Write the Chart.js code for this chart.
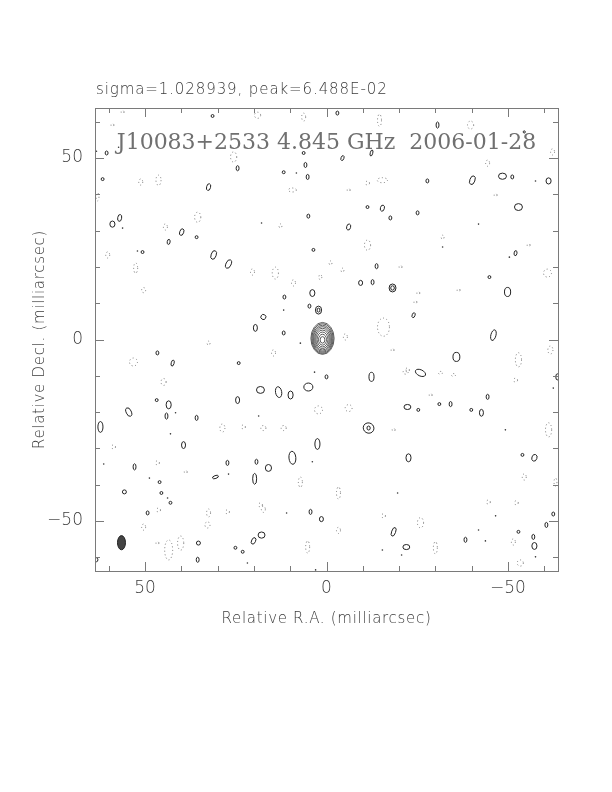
<!DOCTYPE html>
<html>
<head>
<meta charset="utf-8">
<script src="https://cdn.jsdelivr.net/npm/chart.js@4"></script>
<style>
  body { margin: 0; background: #fff; }
  canvas { display: block; }
</style>
</head>
<body>
<canvas id="myChart" width="612" height="792"></canvas>
<script>
// map limits (milliarcsec)
var ra_min = -63.8;
var ra_max = 63.8;
var dec_min = -63.8;
var dec_max = 63.8;

var major_ticks = [50, 0, -50];
var major_labels = ['50', '0', '\u221250'];
var minor_ticks = [60, 40, 30, 20, 10, -10, -20, -30, -40, -60];

var top_title = 'sigma=1.028939, peak=6.488E-02';
var map_title = 'J10083+2533 4.845 GHz  2006-01-28';
var x_title = 'Relative R.A. (milliarcsec)';
var y_title = 'Relative Decl. (milliarcsec)';

// central source: nested contour levels [size in mas]
var core_pos = [1.1, -0.1];
var core_w = [6.4, 5.9, 5.4, 4.9, 4.3, 3.7, 3.0, 2.2, 1.3];
var core_h = [8.8, 8.2, 7.5, 6.8, 6.0, 5.1, 4.1, 3.0, 1.8];
var core_dy = [0.4, 0.35, 0.3, 0.25, 0.2, 0.15, 0.1, 0.05, 0.0];

// restoring beam [ra, dec, w, h]
var beam = [56.5, -56.0, 2.2, 3.9];

// positive noise contours [ra, dec, w, h, rot]
var solid_blobs = [
  [60.6,51.4,0.8,1.1,0], [31.4,61.6,0.8,0.8,0], [24.5,47.2,0.8,1.4,0], [6.3,51.4,0.8,0.8,0],
  [11.8,46.1,0.8,0.8,0], [5.8,48.1,0.8,1.4,0], [5.2,44.8,0.8,1.4,0], [32.5,42.0,1.1,1.9,15],
  [61.7,44.2,0.8,0.8,0], [59.0,31.8,1.4,1.7,0], [57.0,33.5,1.1,1.9,10], [39.9,29.6,1.1,1.9,20],
  [35.8,28.2,0.8,0.8,0], [43.5,26.9,0.8,1.4,10], [5.0,34.0,0.8,1.1,0], [50.7,24.1,0.8,0.8,0],
  [31.1,23.3,1.4,2.5,20], [27.0,20.8,1.4,2.5,25], [3.6,24.7,0.8,0.8,0], [3.9,12.8,1.4,1.9,0],
  [11.6,11.7,0.8,1.1,0], [-3.0,62.4,0.8,1.1,0], [-30.6,59.1,0.8,1.7,0], [-54.5,57.2,0.6,0.6,0],
  [-4.4,50.0,0.8,1.4,20], [-12.4,51.4,0.7,1.7,15], [-27.8,43.7,0.8,1.1,0], [-40.2,43.9,1.4,2.5,20],
  [-48.5,45.0,2.2,1.7,0], [-51.2,44.8,0.8,1.1,0], [-61.2,43.7,1.4,1.7,0], [-11.3,36.5,0.8,0.8,0],
  [-15.4,36.2,1.1,1.7,15], [-17.6,33.5,0.8,1.1,0], [-25.1,34.9,0.8,1.1,0], [-52.9,36.5,2.2,1.9,0],
  [-6.1,31.0,1.1,1.7,15], [-13.8,20.2,0.8,1.4,0], [-52.1,23.8,0.8,1.4,10], [-9.4,15.6,1.1,1.4,0],
  [-12.7,15.8,0.8,1.4,0], [-18.2,14.2,1.9,2.2,0], [-18.2,14.2,1.0,1.2,0], [-44.9,17.2,0.8,0.8,0],
  [-49.9,13.1,1.7,2.5,0], [4.7,9.2,0.8,1.1,0], [2.2,8.1,1.7,2.2,0], [2.2,8.1,0.8,1.1,0],
  [17.4,6.2,1.4,1.4,30], [19.6,3.2,1.1,1.9,0], [11.8,1.8,0.8,1.1,0], [-24.0,6.7,0.8,1.4,20],
  [0.0,-10.3,0.8,1.1,0], [-12.4,-10.3,1.4,2.5,0], [18.2,-13.9,2.2,1.9,0], [13.2,-14.5,1.7,3.0,-10],
  [9.9,-15.3,1.4,2.2,0], [5.0,-13.1,2.5,2.2,0], [46.6,-3.7,0.8,1.1,0], [42.4,-6.5,0.8,1.7,15],
  [24.2,-6.5,0.8,0.8,0], [24.5,-16.7,1.1,1.9,0], [46.8,-16.7,0.8,0.8,0], [43.5,-18.0,1.4,2.2,0],
  [54.5,-20.0,1.4,2.5,-25], [44.1,-21.1,0.8,1.7,0], [35.8,-21.6,0.8,1.4,0], [62.3,-24.1,1.4,3.0,0],
  [39.4,-29.1,1.1,1.9,0], [52.9,-35.1,0.8,1.7,0], [27.3,-34.0,0.8,1.4,0], [19.3,-33.7,0.8,1.4,0],
  [16.0,-35.4,1.7,1.9,0], [19.8,-38.4,1.1,3.0,0], [30.6,-37.9,1.7,0.8,-20], [46.0,-39.3,0.8,0.8,0],
  [55.7,-42.0,1.1,1.1,0], [45.5,-42.3,0.8,0.8,0], [43.0,-45.0,0.8,0.8,0], [-46.0,1.2,1.4,3.0,15],
  [-35.8,-4.8,1.9,2.5,0], [-25.9,-9.2,3.0,1.7,25], [-44.4,-15.8,0.8,1.4,0], [-22.3,-18.6,1.9,1.4,0],
  [-25.3,-19.4,0.8,0.8,0], [-31.1,-17.8,0.8,0.8,0], [-34.2,-17.8,0.8,1.4,0], [-39.9,-19.4,0.8,0.8,0],
  [-42.7,-20.2,1.1,1.9,0], [-63.6,-10.3,0.8,1.7,0], [-22.6,-32.6,1.4,2.2,0], [-54.0,-31.8,0.8,0.8,0],
  [-57.3,-32.6,1.4,1.9,20], [-62.5,-48.1,0.8,1.1,0], [-60.6,-51.1,0.8,1.4,0], [-18.5,-53.0,1.1,2.5,20],
  [-52.9,-53.0,0.8,0.8,0], [-38.3,-55.2,0.8,1.4,0], [-57.0,-54.4,0.8,1.4,0], [-22.0,-57.2,1.9,1.4,0],
  [-57.3,-56.9,1.4,1.9,0], [-11.6,-24.4,3.0,2.8,30], [-11.6,-24.4,0.9,1.1,0], [2.5,-28.8,1.4,3.0,0],
  [9.4,-32.6,1.9,3.6,-5], [4.4,-47.5,0.8,1.4,0], [1.4,-49.5,1.1,1.4,0], [17.9,-53.9,1.9,1.7,0],
  [20.1,-55.5,1.1,1.9,25], [23.1,-58.5,0.8,0.8,0], [49.3,-47.8,0.8,1.1,0], [35.3,-56.1,1.1,1.1,0],
  [35.5,-60.7,0.8,1.4,0], [25.1,-57.4,0.8,0.8,0], [63.4,-60.7,0.8,1.1,0]
];

// tiny positive contours [ra, dec]
var dot_ra = [8.3, 56.2, 17.9, -41.9, -32.0, -50.4, 11.8, 7.2, 3.3, 18.7, 41.6, 43.0, 61.4, 27.0, 48.8,
  43.8, -49.3, -62.5, -19.6, -46.6, -43.8, -41.9, 21.8, -57.6, -20.7, -15.4, 3.9, 11.0, 3.0, 52.1,
  -57.6, 63.4, 57.3];
var dot_dec = [45.9, 30.7, 32.1, 31.8, 25.5, 22.7, 8.1, -1.0, -9.0, -21.1, -20.2, -26.0, -34.3, -37.1, -38.2,
  -43.7, -24.9, -13.4, -42.3, -48.6, -55.5, -52.5, -61.6, -59.9, -59.4, -58.0, -33.7, -47.8, -63.5, 24.4,
  43.7, 51.9, 53.0];

// negative noise contours [ra, dec, w, h]
var dotted_blobs = [
  [19.0,61.8,1.7,1.7], [25.6,50.3,1.7,2.8], [46.3,43.9,1.4,2.8], [51.2,43.4,1.1,1.7],
  [63.1,39.3,0.8,2.2], [35.5,33.7,1.7,2.8], [44.4,31.0,1.1,1.7], [60.3,23.3,1.1,1.7],
  [52.6,19.7,1.1,2.8], [20.4,18.6,1.1,1.7], [14.1,18.3,1.7,3.3], [9.1,15.6,1.1,1.7],
  [1.7,17.2,0.8,1.4], [50.4,13.6,1.1,1.4], [-1.1,21.1,0.8,1.1], [12.7,31.3,0.8,1.1],
  [9.4,41.2,2.2,1.1], [6.3,61.3,1.1,2.2], [-14.6,60.4,1.1,3.3], [-39.7,59.1,1.7,2.2],
  [-44.4,48.6,1.1,1.7], [-15.4,43.9,2.8,1.4], [-11.3,43.1,1.1,1.1], [-6.1,41.2,0.8,0.8],
  [-46.6,39.8,0.8,0.8], [-62.3,51.7,1.1,1.7], [-11.3,26.0,1.7,2.8], [-32.0,28.2,0.8,1.1],
  [-55.7,26.0,0.8,0.8], [-4.4,19.1,0.8,1.1], [-20.4,20.0,0.8,0.8], [-60.9,18.3,2.2,2.2],
  [-36.4,13.6,0.8,0.8], [-25.3,12.8,0.8,0.8], [-15.7,3.4,3.3,5.0], [-5.2,0.7,1.1,1.7],
  [14.6,-3.7,1.1,1.7], [-24.5,10.3,0.8,0.8], [-22.3,-8.4,1.1,1.1], [2.2,-19.4,2.2,2.2],
  [-6.1,-18.9,1.9,1.9], [-18.2,-2.9,0.8,0.8], [53.2,-6.2,2.2,2.2], [44.9,-11.7,1.4,1.9],
  [32.5,-1.0,0.8,1.1], [28.7,-24.4,1.4,2.2], [22.9,-24.1,1.1,1.1], [17.4,-24.4,1.4,1.4],
  [11.8,-24.4,1.4,1.4], [58.7,-29.6,1.1,1.1], [46.6,-34.0,1.1,1.1], [38.8,-36.5,0.8,0.8],
  [18.2,-45.6,1.1,1.1], [-52.9,-5.6,1.7,3.9], [-61.7,-2.9,1.4,2.2], [-21.8,-9.0,1.4,1.1],
  [-31.4,-9.2,1.1,0.8], [-35.0,-9.8,1.1,0.8], [-52.1,-11.2,1.1,1.1], [-28.7,-15.3,0.8,0.8],
  [-18.5,-24.9,0.8,0.8], [-61.2,-24.9,1.7,3.9], [-54.5,-37.9,1.1,1.7], [-44.6,-44.8,1.1,1.1],
  [-52.3,-45.0,1.1,1.1], [-15.7,-48.6,1.1,1.1], [-25.9,-50.5,1.7,2.8], [-30.0,-57.4,1.1,3.3],
  [-51.5,-55.8,1.1,1.7], [-53.4,-61.6,1.7,1.7], [-63.1,-39.3,0.8,2.2], [7.2,-39.3,1.1,2.8],
  [-3.3,-42.3,1.1,3.3], [17.4,-46.8,1.1,1.7], [-3.3,-52.6,1.1,1.7], [5.2,-57.2,1.1,3.3],
  [46.3,-47.0,1.1,1.1], [32.5,-47.8,1.1,2.2], [27.3,-47.5,1.1,1.1], [32.8,-51.1,1.4,1.7],
  [50.4,-51.7,1.1,1.7], [43.5,-58.0,2.2,5.5], [40.2,-56.1,1.7,3.9], [46.6,-56.1,0.8,0.8],
  [56.2,62.7,0.8,0.8], [59.0,59.1,0.8,0.8]
];

function to_points (rows) {
  return rows.map(function (r) {
    return { x: r[0], y: r[1], w: r[2], h: r[3], rot: r[4] || 0 };
  });
}

var core_points = core_w.map(function (w, i) {
  return { x: core_pos[0], y: core_pos[1] + core_dy[i], w: w, h: core_h[i], rot: 0 };
});

var dot_points = dot_ra.map(function (ra, i) {
  return { x: ra, y: dot_dec[i] };
});

// draws every point of a dataset as an ellipse sized in data units
var ellipsePlugin = {
  id: 'ellipses',
  afterDatasetsDraw: function (chart) {
    var ctx = chart.ctx;
    var area = chart.chartArea;
    var xs = chart.scales.x;
    var ys = chart.scales.y;
    var kx = Math.abs(xs.getPixelForValue(1) - xs.getPixelForValue(0));
    var ky = Math.abs(ys.getPixelForValue(1) - ys.getPixelForValue(0));
    ctx.save();
    ctx.beginPath();
    ctx.rect(area.left, area.top, area.right - area.left, area.bottom - area.top);
    ctx.clip();
    chart.data.datasets.forEach(function (ds, di) {
      if (!ds.ellipse) return;
      var meta = chart.getDatasetMeta(di);
      ctx.strokeStyle = ds.lineColor;
      ctx.lineWidth = ds.lineWidth || 1;
      ctx.setLineDash(ds.dash || []);
      ds.data.forEach(function (p, i) {
        var el = meta.data[i];
        ctx.beginPath();
        ctx.ellipse(el.x, el.y, p.w * kx / 2, p.h * ky / 2, p.rot * Math.PI / 180, 0, 2 * Math.PI);
        if (ds.fillColor) {
          ctx.fillStyle = ds.fillColor;
          ctx.fill();
        }
        ctx.stroke();
      });
    });
    ctx.restore();
  }
};

// pgplot style frame, inward ticks and labels
var framePlugin = {
  id: 'frame',
  afterDraw: function (chart) {
    var ctx = chart.ctx;
    var a = chart.chartArea;
    var xs = chart.scales.x;
    var ys = chart.scales.y;
    ctx.save();
    ctx.setLineDash([]);
    ctx.strokeStyle = '#7a7a7a';
    ctx.lineWidth = 1;
    ctx.strokeRect(a.left + 0.5, a.top + 0.5, a.right - a.left, a.bottom - a.top);

    function tick (v, len) {
      var px = Math.round(xs.getPixelForValue(v)) + 0.5;
      var py = Math.round(ys.getPixelForValue(v)) + 0.5;
      ctx.beginPath();
      ctx.moveTo(px, a.bottom); ctx.lineTo(px, a.bottom - len);
      ctx.moveTo(px, a.top); ctx.lineTo(px, a.top + len);
      ctx.moveTo(a.left, py); ctx.lineTo(a.left + len, py);
      ctx.moveTo(a.right, py); ctx.lineTo(a.right - len, py);
      ctx.stroke();
    }
    major_ticks.forEach(function (v) { tick(v, 9); });
    minor_ticks.forEach(function (v) { tick(v, 5); });

    ctx.fillStyle = '#3a3a3a';
    ctx.font = '200 17px "DejaVu Sans"';
    ctx.textBaseline = 'middle';
    major_ticks.forEach(function (v, i) {
      ctx.textAlign = 'center';
      ctx.fillText(major_labels[i], xs.getPixelForValue(v), a.bottom + 18);
      ctx.textAlign = 'right';
      ctx.fillText(major_labels[i], a.left - 12, ys.getPixelForValue(v));
    });

    ctx.textAlign = 'center';
    ctx.font = '200 15px "DejaVu Sans"';
    ctx.letterSpacing = '0.7px';
    ctx.fillText(x_title, (a.left + a.right) / 2, a.bottom + 48);
    ctx.save();
    ctx.translate(a.left - 55, (a.top + a.bottom) / 2);
    ctx.rotate(-Math.PI / 2);
    ctx.fillText(y_title, 0, 0);
    ctx.restore();

    ctx.textAlign = 'left';
    ctx.font = '200 15px "DejaVu Sans"';
    ctx.letterSpacing = '0.9px';
    ctx.fillText(top_title, a.left + 1, a.top - 18);

    ctx.textAlign = 'center';
    ctx.letterSpacing = '0px';
    ctx.font = '22px "DejaVu Serif"';
    ctx.fillStyle = '#707070';
    ctx.fillText(map_title, (a.left + a.right) / 2, a.top + 35);
    ctx.restore();
  }
};

function create_chart_map (chart_id) {
  var ctx = document.getElementById(chart_id).getContext('2d');

  var chartdata = {
    datasets: [
      { label: 'negative', data: to_points(dotted_blobs), ellipse: true, lineColor: '#777', dash: [1, 2.5], pointRadius: 0 },
      { label: 'positive', data: to_points(solid_blobs), ellipse: true, lineColor: '#222', pointRadius: 0 },
      { label: 'core', data: core_points, ellipse: true, lineColor: '#333', lineWidth: 0.8, pointRadius: 0 },
      { label: 'beam', data: to_points([beam]), ellipse: true, lineColor: '#222', fillColor: '#444', pointRadius: 0 },
      { label: 'dots', data: dot_points, pointRadius: 0.8, pointBorderWidth: 0, backgroundColor: '#333', borderColor: '#333' }
    ]
  };

  var chart = new Chart(ctx, {
    type: 'scatter',
    data: chartdata,
    options: {
      responsive: false,
      animation: false,
      layout: { padding: { left: 95, top: 108, right: 54, bottom: 221 } },
      plugins: { legend: { display: false }, tooltip: { enabled: false } },
      scales: {
        x: { type: 'linear', min: ra_min, max: ra_max, reverse: true, display: false },
        y: { type: 'linear', min: dec_min, max: dec_max, display: false }
      }
    },
    plugins: [ellipsePlugin, framePlugin]
  });
}

create_chart_map('myChart');
</script>
</body>
</html>
